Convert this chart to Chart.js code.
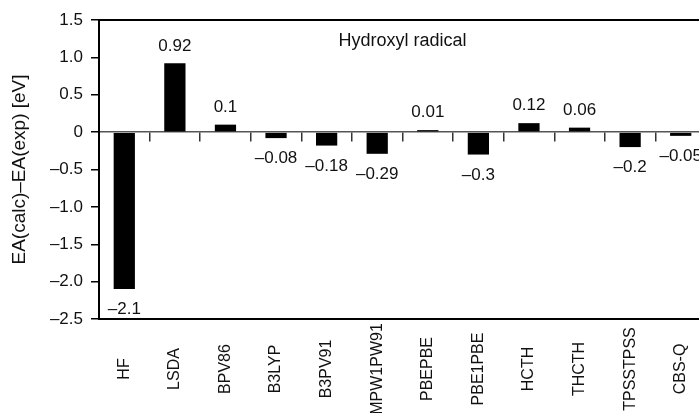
<!DOCTYPE html>
<html>
<head>
<meta charset="utf-8">
<script src="https://cdn.jsdelivr.net/npm/chart.js@4.4.0/dist/chart.umd.min.js"></script>
<style>
  html, body { margin: 0; padding: 0; background: #fff; overflow: hidden; width: 699px; height: 413px; }
</style>
</head>
<body>
<canvas id="ea" width="706" height="413"></canvas>
<script>
const METHODS = ["HF", "LSDA", "BPV86", "B3LYP", "B3PV91", "MPW1PW91", "PBEPBE", "PBE1PBE", "HCTH", "THCTH", "TPSSTPSS", "CBS-Q"];
const EA_DIFF = [-2.1, 0.92, 0.1, -0.08, -0.18, -0.29, 0.01, -0.3, 0.12, 0.06, -0.2, -0.05];
const Y_TICKS = [1.5, 1.0, 0.5, 0, -0.5, -1.0, -1.5, -2.0, -2.5];
const PANEL_TITLE = "Hydroxyl radical";
const Y_TITLE = "EA(calc)\u2013EA(exp) [eV]";

const FONT = "'Liberation Sans', Arial, sans-serif";
const INK = "#111";
Chart.defaults.font.family = FONT;
Chart.defaults.color = INK;

const dash = (s) => s.replace("-", "\u2013");

// frame top line, panel title, bar values, centred rotated category names
const decor = {
  id: "decor",
  afterDatasetsDraw(chart) {
    const { ctx, chartArea: a, scales: { x } } = chart;
    ctx.save();
    ctx.strokeStyle = "#000";
    ctx.lineWidth = 2;
    ctx.beginPath();
    ctx.moveTo(a.left, a.top);
    ctx.lineTo(a.right, a.top);
    ctx.stroke();

    ctx.fillStyle = INK;
    ctx.textAlign = "center";
    ctx.font = "18px " + FONT;
    ctx.textBaseline = "top";
    ctx.fillText(PANEL_TITLE, (a.left + a.right) / 2, a.top + 12);

    ctx.font = "17px " + FONT;
    chart.getDatasetMeta(0).data.forEach((bar, i) => {
      const v = EA_DIFF[i];
      const txt = dash(String(v));
      if (v >= 0) {
        ctx.textBaseline = "bottom";
        ctx.fillText(txt, bar.x, bar.y - 9);
      } else {
        ctx.textBaseline = "top";
        ctx.fillText(txt, bar.x, bar.y + 12);
      }
    });

    ctx.font = "16px " + FONT;
    ctx.textBaseline = "middle";
    METHODS.forEach((m, i) => {
      ctx.save();
      ctx.translate(x.getPixelForValue(i), a.bottom + 50);
      ctx.rotate(-Math.PI / 2);
      ctx.fillText(m, 0, 0);
      ctx.restore();
    });
    ctx.restore();
  }
};

new Chart(document.getElementById("ea"), {
  type: "bar",
  data: {
    labels: METHODS,
    datasets: [{
      data: EA_DIFF,
      backgroundColor: "#000",
      borderWidth: 0,
      minBarLength: 2,
      barPercentage: 0.42,
      categoryPercentage: 1
    }]
  },
  options: {
    responsive: false,
    animation: false,
    layout: { padding: { left: 8, top: 20, right: 0, bottom: 0 } },
    plugins: { legend: { display: false }, tooltip: { enabled: false } },
    scales: {
      x: {
        type: "category",
        position: "bottom",
        grid: { display: false },
        ticks: { display: false },
        border: { color: "#000", width: 2 },
        afterFit: (s) => { s.height = 94; }
      },
      x2: {
        type: "category",
        labels: METHODS,
        position: { y: 0 },
        grid: { offset: true, drawOnChartArea: false, drawTicks: true, tickLength: 9, color: "#333", lineWidth: 1.5 },
        ticks: { display: false },
        border: { color: "#555", width: 1.5 }
      },
      y: {
        min: -2.5,
        max: 1.5,
        afterBuildTicks: (s) => { s.ticks = Y_TICKS.map((v) => ({ value: v })); },
        ticks: {
          font: { size: 17 },
          color: INK,
          padding: 8,
          callback: (v) => (v === 0 ? "0" : dash(v.toFixed(1)))
        },
        grid: { drawOnChartArea: false, tickLength: 8, color: "#000", lineWidth: 1.5 },
        border: { color: "#000", width: 2 },
        title: { display: true, text: Y_TITLE, font: { size: 19 }, color: INK, padding: { top: 0, bottom: 0 } },
        afterFit: (s) => { s.width = 91; }
      }
    }
  },
  plugins: [decor]
});
</script>
</body>
</html>
